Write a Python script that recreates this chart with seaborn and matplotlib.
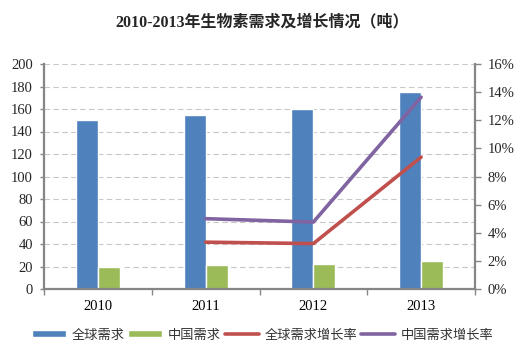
import pandas as pd
import matplotlib.pyplot as plt
import matplotlib.ticker as mticker
from matplotlib.patches import Patch
from matplotlib.lines import Line2D
import seaborn as sns

# --- DATA ---
years = ['2010', '2011', '2012', '2013']
global_demand = [150, 155, 160, 175]
china_demand = [20, 21, 22, 25]
growth_years = ['2011', '2012', '2013']
global_growth = [3.33, 3.23, 9.38]
china_growth = [5.00, 4.76, 13.64]

BLUE, GREEN, RED, PURPLE = '#4F81BD', '#9BBB59', '#C0504D', '#8064A2'
AXIS_GRAY = '#868686'

sns.set_theme(style='white')
plt.rcParams['font.family'] = ['Liberation Serif', 'Noto Sans CJK SC', 'DejaVu Sans']

bars = pd.DataFrame({
    'year': years * 2,
    'value': global_demand + china_demand,
    'series': ['全球需求'] * len(years) + ['中国需求'] * len(years),
})
pos = [years.index(y) for y in growth_years]
lines = pd.DataFrame({
    'pos': pos * 2,
    'rate': global_growth + china_growth,
    'series': ['全球需求增长率'] * len(pos) + ['中国需求增长率'] * len(pos),
})

fig = plt.figure(figsize=(5.25, 3.56), dpi=100)
ax = fig.add_axes([44 / 525, 1 - 289 / 356, 431 / 525, 225 / 356])

sns.barplot(data=bars, x='year', y='value', hue='series', order=years,
            palette=[BLUE, GREEN], width=0.41, saturation=1, ax=ax, legend=False)
ax.set_xlim(-0.5, len(years) - 0.5)
ax.set_ylim(0, 200)
ax.yaxis.set_major_locator(mticker.MultipleLocator(20))
ax.grid(axis='y', color='#C8C8C8', linestyle=(0, (5, 3)), linewidth=0.8)
ax.set_axisbelow(True)
ax.set_xlabel('')
ax.set_ylabel('')

ax2 = ax.twinx()
sns.lineplot(data=lines, x='pos', y='rate', hue='series',
             palette=[RED, PURPLE], linewidth=2.6, ax=ax2, legend=False)
ax2.set_ylim(0, 16)
ax2.yaxis.set_major_locator(mticker.MultipleLocator(2))
ax2.yaxis.set_major_formatter(mticker.FuncFormatter(lambda v, _: f'{v:.0f}%'))
ax2.set_ylabel('')
ax2.set_xlim(-0.5, len(years) - 0.5)

for a in (ax, ax2):
    a.spines['top'].set_visible(False)
    for s in ('left', 'right', 'bottom'):
        a.spines[s].set_color(AXIS_GRAY)
        a.spines[s].set_linewidth(1.6)
ax.spines['right'].set_visible(False)
ax2.spines['left'].set_visible(False)
ax2.spines['bottom'].set_visible(False)

ax.set_xticks(range(len(years)))
ax.set_xticklabels(years)
ax.set_xticks([i - 0.5 for i in range(len(years) + 1)], minor=True)
ax.tick_params(axis='x', which='major', length=0, pad=8, labelsize=10.5, colors='black')
ax.tick_params(axis='x', which='minor', length=4, width=1, color=AXIS_GRAY, direction='out', bottom=True)
ax.tick_params(axis='y', length=3, width=1, color=AXIS_GRAY, left=True, labelsize=10.5, pad=5)
ax2.tick_params(axis='y', length=4, width=1, color=AXIS_GRAY, right=True, labelsize=10.5, pad=5)

fig.text(0.5, 1 - 22 / 356, '2010-2013年生物素需求及增长情况（吨）',
         ha='center', va='center', fontsize=11.5, fontweight='bold',
         family=['Liberation Serif', 'Noto Sans CJK SC'])

handles = [
    Patch(facecolor=BLUE, label='全球需求'),
    Patch(facecolor=GREEN, label='中国需求'),
    Line2D([], [], color=RED, linewidth=2.6, label='全球需求增长率'),
    Line2D([], [], color=PURPLE, linewidth=2.6, label='中国需求增长率'),
]
fig.legend(handles=handles, loc='center', bbox_to_anchor=(0.5, 1 - 335 / 356),
           ncol=4, frameon=False, handlelength=2.6, handleheight=0.4,
           handletextpad=0.4, columnspacing=0.3,
           prop={'family': ['Noto Sans CJK SC'], 'size': 9.5}, labelcolor='#333333')

fig.savefig('out.png', dpi=100)
